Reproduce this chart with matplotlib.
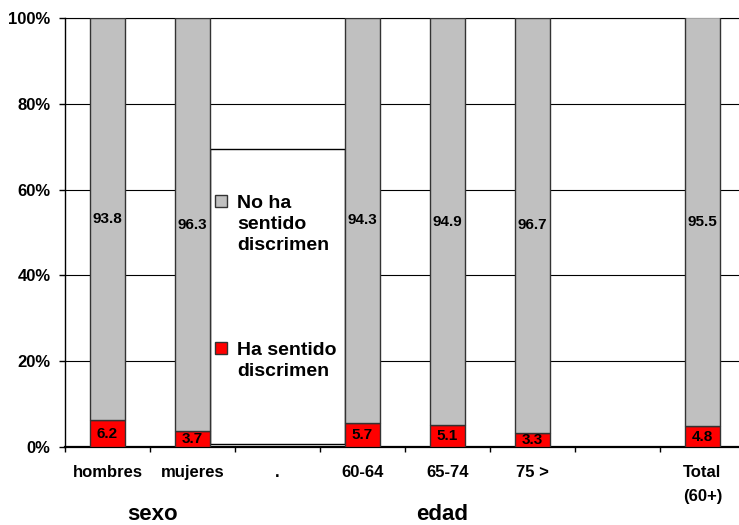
import numpy as np
import matplotlib
matplotlib.use('Agg')
import matplotlib.pyplot as plt
from matplotlib.patches import Rectangle

plt.rcParams['font.family'] = ['Liberation Sans', 'DejaVu Sans']

#####
# Data
#####

categorias = ['hombres', 'mujeres', '.', '60-64', '65-74', '75 >', '', 'Total\n(60+)']
no_ha = [93.8, 96.3, None, 94.3, 94.9, 96.7, None, 95.5]   # No ha sentido discrimen
ha = [6.2, 3.7, None, 5.7, 5.1, 3.3, None, 4.8]           # Ha sentido discrimen
grupos = ['sexo', 'edad']
leyenda = ['No ha\nsentido\ndiscrimen', 'Ha sentido\ndiscrimen']

gris = '#C0C0C0'
rojo = '#FF0000'
borde = '#333333'
ancho = 0.41

#####
# Chart
#####

fig = plt.figure(figsize=(7.39, 5.25), dpi=100)
ax = fig.add_axes([65 / 739, 78 / 525, 680 / 739, 429 / 525])

pos = [i for i in range(len(categorias)) if ha[i] is not None]
v_ha = np.array([ha[i] for i in pos])
v_no = np.array([no_ha[i] for i in pos])

ax.bar(pos, v_ha, width=ancho, color=rojo, edgecolor=borde, linewidth=1, zorder=3)
ax.bar(pos, v_no, width=ancho, bottom=v_ha, color=gris, edgecolor=borde, linewidth=1, zorder=3)

for x, a, b in zip(pos, v_ha, v_no):
    ax.text(x, a / 2, f'{a:.1f}', ha='center', va='center', fontsize=11,
            fontweight='bold', zorder=4)
    ax.text(x, a + b / 2, f'{b:.1f}', ha='center', va='center', fontsize=11,
            fontweight='bold', zorder=4)

ax.set_xlim(-0.5, len(categorias) - 0.5)
ax.set_ylim(0, 100)

ax.set_yticks(np.arange(0, 101, 20))
ax.set_yticklabels([f'{v}%' for v in range(0, 101, 20)])
ax.yaxis.grid(True, color='black', linewidth=0.8, zorder=0)
ax.set_axisbelow(True)
ax.tick_params(axis='y', direction='out', length=4, width=1, pad=6.5,
               labelsize=12)

ax.set_xticks(range(len(categorias)))
ax.set_xticklabels(categorias)
ax.set_xticks(np.arange(-0.5, len(categorias), 1), minor=True)
ax.tick_params(axis='x', which='major', length=0, pad=13, labelsize=12)
ax.tick_params(axis='x', which='minor', direction='out', length=3.6, width=1)
for lab in ax.get_xticklabels() + ax.get_yticklabels():
    lab.set_fontweight('bold')
for lab in ax.get_xticklabels():
    lab.set_linespacing(1.75)

ax.spines['right'].set_visible(False)
ax.spines['top'].set_linewidth(0.8)
ax.spines['left'].set_linewidth(1)
ax.spines['bottom'].set_linewidth(1.6)

# legend box sits in the empty "." slot, between the neighbour bars
x0 = 1 + ancho / 2
x1 = 3 - ancho / 2
ax.add_patch(Rectangle((x0, 0.6), x1 - x0, 68.9, facecolor='white',
                       edgecolor='black', linewidth=1, zorder=2.5))
for color, texto, ysq, ytx in [(gris, leyenda[0], 57.3, 58.7), (rojo, leyenda[1], 23.1, 24.5)]:
    ax.add_patch(Rectangle((1.265, ysq - 1.4), 0.14, 2.8, facecolor=color,
                           edgecolor=borde, linewidth=1, zorder=3))
    ax.text(1.5235, ytx, texto, ha='left', va='top', fontsize=14,
            fontweight='bold', linespacing=1.32, zorder=3)

fig.text(153 / 739, 1 - 515 / 525, grupos[0], ha='center', va='center',
         fontsize=16, fontweight='bold')
fig.text(442 / 739, 1 - 515 / 525, grupos[1], ha='center', va='center',
         fontsize=16, fontweight='bold')

fig.savefig('out.png', dpi=100)
